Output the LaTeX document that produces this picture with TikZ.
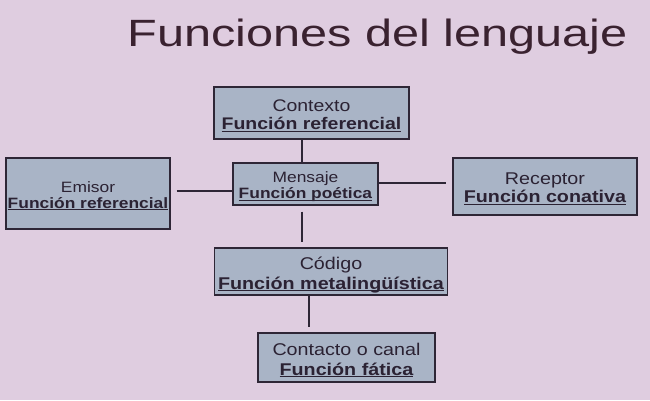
\documentclass[tikz,border=0pt]{standalone}
\usepackage{fontspec}
\setmainfont[FakeStretch=1.16]{Liberation Sans}
\newfontfamily\titlefont[FakeStretch=1.28]{Liberation Sans}
\definecolor{bgc}{HTML}{DFCDE0}
\definecolor{boxfill}{HTML}{A9B4C6}
\definecolor{boxline}{HTML}{2E2636}
\definecolor{txt}{HTML}{2B2233}
\definecolor{titlec}{HTML}{3A2230}
\newcommand{\fn}[1]{\underline{\raisebox{0pt}[\height][0pt]{\textbf{#1}}}}
\tikzset{
  fbox/.style={draw=boxline, line width=1.1pt, fill=boxfill, inner sep=0pt},
  ftext/.style={align=center, text=txt, inner sep=0pt, yshift=-2.5pt},
  conn/.style={draw=boxline, line width=1.1pt}
}
\begin{document}
\begin{tikzpicture}[x=1pt,y=-1pt]
\fill[bgc] (0,0) rectangle (650,400);
\useasboundingbox (0,0) rectangle (650,400);
\node[anchor=base, text=titlec, font=\titlefont\fontsize{38}{40}\selectfont] (title) at (377.5,46) {Funciones del lenguaje};
% boxes
\node[fbox, minimum width=195pt, minimum height=52pt] (ctx) at (311.5,113) {};
\node[fbox, minimum width=145pt, minimum height=42pt] (msg) at (305.5,184) {};
\node[fbox, minimum width=164pt, minimum height=71pt] (emi) at (88,193.5) {};
\node[fbox, minimum width=184pt, minimum height=57pt] (rec) at (545,186.5) {};
\node[fbox, minimum width=233pt, minimum height=47pt] (cod) at (331,271.5) {};
\node[fbox, minimum width=177pt, minimum height=49pt] (con) at (346.5,357.5) {};
% texts
\node[ftext, font=\fontsize{16.8}{18}\selectfont] (ctxT) at (ctx.center) {Contexto\\\fn{Función referencial}};
\node[ftext, font=\fontsize{15}{16}\selectfont] (msgT) at (msg.center) {Mensaje\\\fn{Función poética}};
\node[ftext, font=\fontsize{15}{15.5}\selectfont] (emiT) at (emi.center) {Emisor\\\fn{Función referencial}};
\node[ftext, font=\fontsize{17}{18}\selectfont] (recT) at (rec.center) {Receptor\\\fn{Función conativa}};
\node[ftext, font=\fontsize{17}{20}\selectfont] (codT) at (cod.center) {Código\\\fn{Función metalingüística}};
\node[ftext, font=\fontsize{17}{20}\selectfont] (conT) at (con.center) {Contacto o canal\\\fn{Función fática}};
% helper coordinates
\coordinate (vx1) at (302,0);
\coordinate (vx2) at (309,0);
\coordinate (hy1) at (0,191);
\coordinate (hy2) at (0,183);
% connectors
\draw[conn] (ctx.south -| vx1) -- (msg.north -| vx1);
\draw[conn, shorten <=6pt] (emi.east |- hy1) -- (msg.west |- hy1);
\draw[conn, shorten >=6pt] (msg.east |- hy2) -- (rec.west |- hy2);
\draw[conn, shorten <=6pt, shorten >=5pt] (msg.south -| vx1) -- (cod.north -| vx1);
\draw[conn, shorten >=5pt] (cod.south -| vx2) -- (con.north -| vx2);
\end{tikzpicture}
\end{document}
